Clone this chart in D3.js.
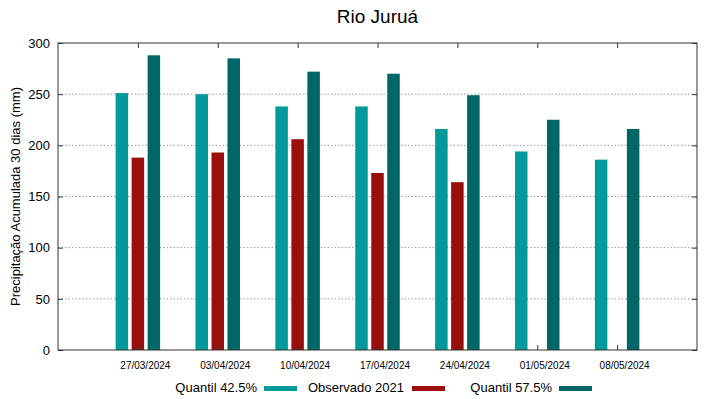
<!DOCTYPE html>
<html><head><meta charset="utf-8">
<script src="https://cdn.jsdelivr.net/npm/d3@7"></script>
<style>body{margin:0;background:#fff;} svg{display:block;font-family:"Liberation Sans",Arial,sans-serif;}</style>
</head><body><svg id="c" width="719" height="399"></svg>
<script>
const categories = ["27/03/2024","03/04/2024","10/04/2024","17/04/2024","24/04/2024","01/05/2024","08/05/2024"];
const q425 = [251, 250, 238, 238, 216, 194, 186];
const observado = [188, 193, 206, 173, 164, null, null];
const q575 = [288, 285, 272, 270, 249, 225, 216];
const yTicks = [0, 50, 100, 150, 200, 250, 300];
const seriesNames = ["Quantil 42.5%", "Observado 2021", "Quantil 57.5%"];
const colors = ["#009a99", "#9a0e0e", "#006766"];

const svg = d3.select("#c");
const L = 58, R = 697, T = 43, B = 350;
const x = d3.scaleLinear().domain([-1, 7]).range([L, R]);
const y = d3.scaleLinear().domain([0, 300]).range([B, T]);
const barW = 12.5, off = 16;

// grid
svg.append("g").selectAll("line").data(yTicks.filter(d => d > 0 && d < 300)).join("line")
  .attr("x1", L).attr("x2", R).attr("y1", d => y(d)).attr("y2", d => y(d))
  .attr("stroke", "#999").attr("stroke-width", 1).attr("stroke-dasharray", "1.5,2");

// bars
const series = [q425, observado, q575];
series.forEach((s, k) => {
  svg.append("g").selectAll("rect").data(s.map((v, i) => ({v, i})).filter(d => d.v != null)).join("rect")
    .attr("x", d => x(d.i) + (k - 1) * off - barW / 2)
    .attr("width", barW)
    .attr("y", d => y(d.v))
    .attr("height", d => y(0) - y(d.v))
    .attr("fill", colors[k]);
});

// axes
const ax = svg.append("g");
ax.append("g").attr("transform", `translate(${L},0)`)
  .call(d3.axisLeft(y).tickValues(yTicks).tickSize(-5).tickPadding(8))
  .call(g => { g.select(".domain").remove(); g.selectAll("text").attr("font-size", 13).attr("fill", "#000").attr("font-family", "Liberation Sans, Arial, sans-serif"); g.selectAll("line").attr("stroke", "#333"); });
ax.append("g").attr("transform", `translate(${R},0)`)
  .call(d3.axisRight(y).tickValues(yTicks).tickSize(-5).tickFormat(""))
  .call(g => { g.select(".domain").remove(); g.selectAll("line").attr("stroke", "#333"); });
ax.append("g").attr("transform", `translate(0,${B})`)
  .call(d3.axisBottom(x).tickValues(categories.map((c, i) => i)).tickSize(-5).tickPadding(12).tickFormat(i => categories[i]))
  .call(g => { g.select(".domain").remove(); g.selectAll("text").attr("font-size", 10).attr("fill", "#000").attr("dx", 7).attr("font-family", "Liberation Sans, Arial, sans-serif"); g.selectAll("line").attr("stroke", "#333"); });
ax.append("g").attr("transform", `translate(0,${T})`)
  .call(d3.axisTop(x).tickValues(categories.map((c, i) => i)).tickSize(-5).tickFormat(""))
  .call(g => { g.select(".domain").remove(); g.selectAll("line").attr("stroke", "#333"); });

svg.append("rect").attr("x", L).attr("y", T).attr("width", R - L).attr("height", B - T)
  .attr("fill", "none").attr("stroke", "#333").attr("stroke-width", 1);

// title
svg.append("text").attr("x", (L + R) / 2).attr("y", 23).attr("text-anchor", "middle")
  .attr("font-size", 19).text("Rio Juruá");

// y label
svg.append("text").attr("transform", `translate(20,${(T + B) / 2}) rotate(-90)`)
  .attr("text-anchor", "middle").attr("font-size", 13).text("Precipitação Acumulada 30 dias (mm)");

// legend
const legendText = [257, 404, 552];
const legendSw = [264, 412, 559];
seriesNames.forEach((n, k) => {
  svg.append("text").attr("x", legendText[k]).attr("y", 392).attr("text-anchor", "end")
    .attr("font-size", 13).text(n);
  svg.append("rect").attr("x", legendSw[k]).attr("y", 386).attr("width", 33).attr("height", 5)
    .attr("fill", colors[k]);
});
</script></body></html>
